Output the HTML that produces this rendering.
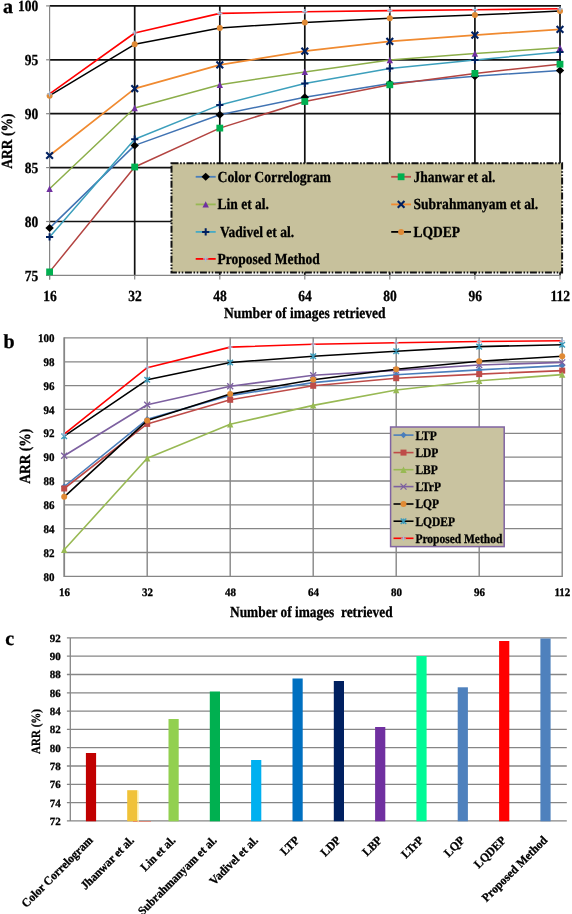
<!DOCTYPE html>
<html><head><meta charset="utf-8"><title>Figure</title>
<style>html,body{margin:0;padding:0;background:#fff;}body{width:572px;height:914px;overflow:hidden;font-family:"Liberation Serif",serif;}svg{display:block;will-change:transform;}text{font-family:"Liberation Serif",serif;font-weight:bold;fill:#000;stroke:#000;stroke-width:0.3px;text-rendering:geometricPrecision;}</style></head><body>
<svg width="572" height="914" viewBox="0 0 572 914">
<rect width="572" height="914" fill="#fff"/>
<line x1="49.6" x2="560.9" y1="5.9" y2="5.9" stroke="#111" stroke-width="1.7"/>
<line x1="49.6" x2="560.9" y1="59.8" y2="59.8" stroke="#111" stroke-width="1.7"/>
<line x1="49.6" x2="560.9" y1="113.7" y2="113.7" stroke="#111" stroke-width="1.7"/>
<line x1="49.6" x2="560.9" y1="167.6" y2="167.6" stroke="#111" stroke-width="1.7"/>
<line x1="49.6" x2="560.9" y1="221.5" y2="221.5" stroke="#111" stroke-width="1.7"/>
<line x1="134.7" x2="134.7" y1="5.1000000000000005" y2="275.4" stroke="#111" stroke-width="1.7"/>
<line x1="219.8" x2="219.8" y1="5.1000000000000005" y2="275.4" stroke="#111" stroke-width="1.7"/>
<line x1="304.8" x2="304.8" y1="5.1000000000000005" y2="275.4" stroke="#111" stroke-width="1.7"/>
<line x1="389.8" x2="389.8" y1="5.1000000000000005" y2="275.4" stroke="#111" stroke-width="1.7"/>
<line x1="474.9" x2="474.9" y1="5.1000000000000005" y2="275.4" stroke="#111" stroke-width="1.7"/>
<line x1="560.0" x2="560.0" y1="5.1000000000000005" y2="275.4" stroke="#111" stroke-width="1.7"/>
<line x1="49.6" x2="49.6" y1="5.9" y2="279.4" stroke="#868686" stroke-width="1.2"/>
<line x1="46.1" x2="560.0" y1="275.4" y2="275.4" stroke="#868686" stroke-width="1.2"/>
<line x1="46.1" x2="49.6" y1="5.9" y2="5.9" stroke="#868686" stroke-width="1.2"/>
<line x1="46.1" x2="49.6" y1="59.8" y2="59.8" stroke="#868686" stroke-width="1.2"/>
<line x1="46.1" x2="49.6" y1="113.7" y2="113.7" stroke="#868686" stroke-width="1.2"/>
<line x1="46.1" x2="49.6" y1="167.6" y2="167.6" stroke="#868686" stroke-width="1.2"/>
<line x1="46.1" x2="49.6" y1="221.5" y2="221.5" stroke="#868686" stroke-width="1.2"/>
<line x1="46.1" x2="49.6" y1="275.4" y2="275.4" stroke="#868686" stroke-width="1.2"/>
<line x1="49.6" x2="49.6" y1="275.4" y2="279.4" stroke="#868686" stroke-width="1.2"/>
<line x1="134.7" x2="134.7" y1="275.4" y2="279.4" stroke="#868686" stroke-width="1.2"/>
<line x1="219.8" x2="219.8" y1="275.4" y2="279.4" stroke="#868686" stroke-width="1.2"/>
<line x1="304.8" x2="304.8" y1="275.4" y2="279.4" stroke="#868686" stroke-width="1.2"/>
<line x1="389.8" x2="389.8" y1="275.4" y2="279.4" stroke="#868686" stroke-width="1.2"/>
<line x1="474.9" x2="474.9" y1="275.4" y2="279.4" stroke="#868686" stroke-width="1.2"/>
<line x1="560.0" x2="560.0" y1="275.4" y2="279.4" stroke="#868686" stroke-width="1.2"/>
<polyline points="49.6,228.1 134.7,145.4 219.8,114.7 304.8,97.3 389.8,83.6 474.9,76.2 560.0,70.4" fill="none" stroke="#4173b3" stroke-width="1.5" stroke-linejoin="round"/>
<path d="M45.4 228.1L49.6 224.1L53.800000000000004 228.1L49.6 232.1Z" fill="#000"/>
<path d="M130.5 145.4L134.7 141.4L138.89999999999998 145.4L134.7 149.4Z" fill="#000"/>
<path d="M215.60000000000002 114.7L219.8 110.7L224.0 114.7L219.8 118.7Z" fill="#000"/>
<path d="M300.6 97.3L304.8 93.3L309.0 97.3L304.8 101.3Z" fill="#000"/>
<path d="M385.6 83.6L389.8 79.6L394.0 83.6L389.8 87.6Z" fill="#000"/>
<path d="M470.7 76.2L474.9 72.2L479.09999999999997 76.2L474.9 80.2Z" fill="#000"/>
<path d="M555.8 70.4L560.0 66.4L564.2 70.4L560.0 74.4Z" fill="#000"/>
<polyline points="49.6,271.9 134.7,167.0 219.8,128.1 304.8,101.5 389.8,84.8 474.9,73.4 560.0,64.2" fill="none" stroke="#b34441" stroke-width="1.5" stroke-linejoin="round"/>
<rect x="46.2" y="268.5" width="6.8" height="6.8" fill="#00b050"/>
<rect x="131.29999999999998" y="163.6" width="6.8" height="6.8" fill="#00b050"/>
<rect x="216.4" y="124.69999999999999" width="6.8" height="6.8" fill="#00b050"/>
<rect x="301.40000000000003" y="98.1" width="6.8" height="6.8" fill="#00b050"/>
<rect x="386.40000000000003" y="81.39999999999999" width="6.8" height="6.8" fill="#00b050"/>
<rect x="471.5" y="70.0" width="6.8" height="6.8" fill="#00b050"/>
<rect x="556.6" y="60.800000000000004" width="6.8" height="6.8" fill="#00b050"/>
<polyline points="49.6,188.8 134.7,108.0 219.8,84.8 304.8,71.9 389.8,60.1 474.9,53.5 560.0,47.8" fill="none" stroke="#8cae4a" stroke-width="1.5" stroke-linejoin="round"/>
<path d="M49.6 185.60000000000002L52.800000000000004 192.0L46.4 192.0Z" fill="#7030a0"/>
<path d="M134.7 104.8L137.89999999999998 111.2L131.5 111.2Z" fill="#7030a0"/>
<path d="M219.8 81.6L223.0 88.0L216.60000000000002 88.0Z" fill="#7030a0"/>
<path d="M304.8 68.7L308.0 75.10000000000001L301.6 75.10000000000001Z" fill="#7030a0"/>
<path d="M389.8 56.9L393.0 63.300000000000004L386.6 63.300000000000004Z" fill="#7030a0"/>
<path d="M474.9 50.3L478.09999999999997 56.7L471.7 56.7Z" fill="#7030a0"/>
<path d="M560.0 44.599999999999994L563.2 51.0L556.8 51.0Z" fill="#7030a0"/>
<polyline points="49.6,155.5 134.7,88.6 219.8,64.9 304.8,51.2 389.8,41.4 474.9,35.1 560.0,29.3" fill="none" stroke="#f08a30" stroke-width="1.7" stroke-linejoin="round"/>
<path d="M46.25 152.15L52.95 158.85M46.25 158.85L52.95 152.15" stroke="#002060" stroke-width="2.1" fill="none"/>
<path d="M131.35 85.25L138.04999999999998 91.94999999999999M131.35 91.94999999999999L138.04999999999998 85.25" stroke="#002060" stroke-width="2.1" fill="none"/>
<path d="M216.45000000000002 61.550000000000004L223.15 68.25M216.45000000000002 68.25L223.15 61.550000000000004" stroke="#002060" stroke-width="2.1" fill="none"/>
<path d="M301.45 47.85L308.15000000000003 54.550000000000004M301.45 54.550000000000004L308.15000000000003 47.85" stroke="#002060" stroke-width="2.1" fill="none"/>
<path d="M386.45 38.05L393.15000000000003 44.75M386.45 44.75L393.15000000000003 38.05" stroke="#002060" stroke-width="2.1" fill="none"/>
<path d="M471.54999999999995 31.75L478.25 38.45M471.54999999999995 38.45L478.25 31.75" stroke="#002060" stroke-width="2.1" fill="none"/>
<path d="M556.65 25.95L563.35 32.65M556.65 32.65L563.35 25.95" stroke="#002060" stroke-width="2.1" fill="none"/>
<polyline points="49.6,236.9 134.7,139.2 219.8,104.9 304.8,83.4 389.8,68.5 474.9,60.0 560.0,51.9" fill="none" stroke="#3c9fbc" stroke-width="1.5" stroke-linejoin="round"/>
<path d="M46.0 236.9L53.2 236.9M49.6 233.3L49.6 240.5" stroke="#002060" stroke-width="2.0" fill="none"/>
<path d="M131.1 139.2L138.29999999999998 139.2M134.7 135.6L134.7 142.79999999999998" stroke="#002060" stroke-width="2.0" fill="none"/>
<path d="M216.20000000000002 104.9L223.4 104.9M219.8 101.30000000000001L219.8 108.5" stroke="#002060" stroke-width="2.0" fill="none"/>
<path d="M301.2 83.4L308.40000000000003 83.4M304.8 79.80000000000001L304.8 87.0" stroke="#002060" stroke-width="2.0" fill="none"/>
<path d="M386.2 68.5L393.40000000000003 68.5M389.8 64.9L389.8 72.1" stroke="#002060" stroke-width="2.0" fill="none"/>
<path d="M471.29999999999995 60.0L478.5 60.0M474.9 56.4L474.9 63.6" stroke="#002060" stroke-width="2.0" fill="none"/>
<path d="M556.4 51.9L563.6 51.9M560.0 48.3L560.0 55.5" stroke="#002060" stroke-width="2.0" fill="none"/>
<polyline points="49.6,95.7 134.7,44.3 219.8,28.0 304.8,22.4 389.8,18.2 474.9,15.0 560.0,11.1" fill="none" stroke="#000" stroke-width="1.5" stroke-linejoin="round"/>
<circle cx="49.6" cy="95.7" r="3.0" fill="#e08a35"/>
<circle cx="134.7" cy="44.3" r="3.0" fill="#e08a35"/>
<circle cx="219.8" cy="28.0" r="3.0" fill="#e08a35"/>
<circle cx="304.8" cy="22.4" r="3.0" fill="#e08a35"/>
<circle cx="389.8" cy="18.2" r="3.0" fill="#e08a35"/>
<circle cx="474.9" cy="15.0" r="3.0" fill="#e08a35"/>
<circle cx="560.0" cy="11.1" r="3.0" fill="#e08a35"/>
<polyline points="49.6,93.9 134.7,33.0 219.8,13.4 304.8,11.7 389.8,10.6 474.9,9.7 560.0,8.8" fill="none" stroke="#ff0000" stroke-width="1.6" stroke-linejoin="round"/>
<path d="M47.0 93.9L52.2 93.9M49.6 91.30000000000001L49.6 96.5" stroke="#a3bcdc" stroke-width="1.2" fill="none"/>
<path d="M132.1 33.0L137.29999999999998 33.0M134.7 30.4L134.7 35.6" stroke="#a3bcdc" stroke-width="1.2" fill="none"/>
<path d="M217.20000000000002 13.4L222.4 13.4M219.8 10.8L219.8 16.0" stroke="#a3bcdc" stroke-width="1.2" fill="none"/>
<path d="M302.2 11.7L307.40000000000003 11.7M304.8 9.1L304.8 14.299999999999999" stroke="#a3bcdc" stroke-width="1.2" fill="none"/>
<path d="M387.2 10.6L392.40000000000003 10.6M389.8 8.0L389.8 13.2" stroke="#a3bcdc" stroke-width="1.2" fill="none"/>
<path d="M472.29999999999995 9.7L477.5 9.7M474.9 7.1L474.9 12.299999999999999" stroke="#a3bcdc" stroke-width="1.2" fill="none"/>
<path d="M557.4 8.8L562.6 8.8M560.0 6.200000000000001L560.0 11.4" stroke="#a3bcdc" stroke-width="1.2" fill="none"/>
<rect x="171.5" y="163.2" width="390.6" height="109.2" fill="#c7c19c" stroke="#111" stroke-width="2" stroke-dasharray="7 1.6 1.6 1.6 1.6 1.6"/>
<line x1="195.7" x2="215.7" y1="176.8" y2="176.8" stroke="#4a7ebb" stroke-width="1.8"/>
<path d="M201.5 176.8L205.7 172.8L209.89999999999998 176.8L205.7 180.8Z" fill="#000"/>
<line x1="195.7" x2="215.7" y1="204.4" y2="204.4" stroke="#98b954" stroke-width="1.8"/>
<path d="M205.7 201.20000000000002L208.89999999999998 207.6L202.5 207.6Z" fill="#7030a0"/>
<line x1="195.7" x2="215.7" y1="231.9" y2="231.9" stroke="#46aac5" stroke-width="1.8"/>
<path d="M202.1 231.9L209.29999999999998 231.9M205.7 228.3L205.7 235.5" stroke="#002060" stroke-width="2.0" fill="none"/>
<line x1="195.7" x2="215.7" y1="258.9" y2="258.9" stroke="#ff0000" stroke-width="1.8"/>
<path d="M203.1 258.9L208.29999999999998 258.9M205.7 256.29999999999995L205.7 261.5" stroke="#a3bcdc" stroke-width="1.2" fill="none"/>
<line x1="391.2" x2="411.0" y1="176.8" y2="176.8" stroke="#be4b48" stroke-width="1.8"/>
<rect x="397.70000000000005" y="173.4" width="6.8" height="6.8" fill="#00b050"/>
<line x1="391.2" x2="411.0" y1="204.4" y2="204.4" stroke="#f08a30" stroke-width="1.8"/>
<path d="M397.75 201.05L404.45000000000005 207.75M397.75 207.75L404.45000000000005 201.05" stroke="#002060" stroke-width="2.1" fill="none"/>
<line x1="391.2" x2="411.0" y1="231.9" y2="231.9" stroke="#000" stroke-width="1.8"/>
<circle cx="401.1" cy="231.9" r="3.0" fill="#e08a35"/>
<text transform="translate(217.6,181.8) scale(0.875,1)" font-size="15.43" text-anchor="start" textLength="129.6" lengthAdjust="spacingAndGlyphs" >Color Correlogram</text>
<text transform="translate(217.6,209.4) scale(0.875,1)" font-size="15.43" text-anchor="start" >Lin et al.</text>
<text transform="translate(220.0,236.9) scale(0.875,1)" font-size="15.43" text-anchor="start" >Vadivel et al.</text>
<text transform="translate(217.6,263.9) scale(0.875,1)" font-size="15.43" text-anchor="start" >Proposed Method</text>
<text transform="translate(413.5,181.8) scale(0.875,1)" font-size="15.43" text-anchor="start" >Jhanwar et al.</text>
<text transform="translate(413.5,209.4) scale(0.875,1)" font-size="15.43" text-anchor="start" textLength="142.4" lengthAdjust="spacingAndGlyphs" >Subrahmanyam et al.</text>
<text transform="translate(413.5,236.9) scale(0.875,1)" font-size="15.43" text-anchor="start" >LQDEP</text>
<text transform="translate(38.2,11.2) scale(0.875,1)" font-size="15.43" text-anchor="end" >100</text>
<text transform="translate(38.2,65.1) scale(0.875,1)" font-size="15.43" text-anchor="end" >95</text>
<text transform="translate(38.2,119.0) scale(0.875,1)" font-size="15.43" text-anchor="end" >90</text>
<text transform="translate(38.2,172.9) scale(0.875,1)" font-size="15.43" text-anchor="end" >85</text>
<text transform="translate(38.2,226.8) scale(0.875,1)" font-size="15.43" text-anchor="end" >80</text>
<text transform="translate(38.2,280.7) scale(0.875,1)" font-size="15.43" text-anchor="end" >75</text>
<text transform="translate(49.9,300.6) scale(0.875,1)" font-size="15.43" text-anchor="middle" >16</text>
<text transform="translate(135.0,300.6) scale(0.875,1)" font-size="15.43" text-anchor="middle" >32</text>
<text transform="translate(220.10000000000002,300.6) scale(0.875,1)" font-size="15.43" text-anchor="middle" >48</text>
<text transform="translate(305.1,300.6) scale(0.875,1)" font-size="15.43" text-anchor="middle" >64</text>
<text transform="translate(390.1,300.6) scale(0.875,1)" font-size="15.43" text-anchor="middle" >80</text>
<text transform="translate(475.2,300.6) scale(0.875,1)" font-size="15.43" text-anchor="middle" >96</text>
<text transform="translate(560.3,300.6) scale(0.875,1)" font-size="15.43" text-anchor="middle" >112</text>
<text transform="translate(304.8,317.8) scale(0.875,1)" font-size="15.43" text-anchor="middle" textLength="184.6" lengthAdjust="spacingAndGlyphs" >Number of images retrieved</text>
<text transform="translate(11.6,141.1) rotate(-90) scale(0.875,1)" font-size="15.43" text-anchor="middle" >ARR (%)</text>
<text transform="translate(3,13.2) scale(1,1)" font-size="20.0" text-anchor="start" >a</text>
<line x1="64.2" x2="562.2" y1="576.4" y2="576.4" stroke="#868686" stroke-width="1.3"/>
<line x1="64.2" x2="562.2" y1="552.5" y2="552.5" stroke="#868686" stroke-width="1.3"/>
<line x1="64.2" x2="562.2" y1="528.7" y2="528.7" stroke="#868686" stroke-width="1.3"/>
<line x1="64.2" x2="562.2" y1="504.9" y2="504.9" stroke="#868686" stroke-width="1.3"/>
<line x1="64.2" x2="562.2" y1="481.0" y2="481.0" stroke="#868686" stroke-width="1.3"/>
<line x1="64.2" x2="562.2" y1="457.1" y2="457.1" stroke="#868686" stroke-width="1.3"/>
<line x1="64.2" x2="562.2" y1="433.3" y2="433.3" stroke="#868686" stroke-width="1.3"/>
<line x1="64.2" x2="562.2" y1="409.4" y2="409.4" stroke="#868686" stroke-width="1.3"/>
<line x1="64.2" x2="562.2" y1="385.6" y2="385.6" stroke="#868686" stroke-width="1.3"/>
<line x1="64.2" x2="562.2" y1="361.8" y2="361.8" stroke="#868686" stroke-width="1.3"/>
<line x1="64.2" x2="562.2" y1="337.9" y2="337.9" stroke="#868686" stroke-width="1.3"/>
<line x1="64.2" x2="64.2" y1="337.29999999999995" y2="577.0" stroke="#868686" stroke-width="1.8"/>
<line x1="147.2" x2="147.2" y1="337.29999999999995" y2="577.0" stroke="#868686" stroke-width="1.4"/>
<line x1="230.2" x2="230.2" y1="337.29999999999995" y2="577.0" stroke="#868686" stroke-width="1.4"/>
<line x1="313.2" x2="313.2" y1="337.29999999999995" y2="577.0" stroke="#868686" stroke-width="1.4"/>
<line x1="396.2" x2="396.2" y1="337.29999999999995" y2="577.0" stroke="#868686" stroke-width="1.4"/>
<line x1="479.2" x2="479.2" y1="337.29999999999995" y2="577.0" stroke="#868686" stroke-width="1.4"/>
<line x1="562.2" x2="562.2" y1="337.29999999999995" y2="577.0" stroke="#868686" stroke-width="1.4"/>
<polyline points="64.2,486.5 147.2,419.3 230.2,395.6 313.2,382.6 396.2,374.8 479.2,369.9 562.2,365.6" fill="none" stroke="#4a7ebb" stroke-width="1.6" stroke-linejoin="round"/>
<path d="M61.0 486.5L64.2 483.3L67.4 486.5L64.2 489.7Z" fill="#4a7ebb"/>
<path d="M144.0 419.3L147.2 416.1L150.39999999999998 419.3L147.2 422.5Z" fill="#4a7ebb"/>
<path d="M227.0 395.6L230.2 392.40000000000003L233.39999999999998 395.6L230.2 398.8Z" fill="#4a7ebb"/>
<path d="M310.0 382.6L313.2 379.40000000000003L316.4 382.6L313.2 385.8Z" fill="#4a7ebb"/>
<path d="M393.0 374.8L396.2 371.6L399.4 374.8L396.2 378.0Z" fill="#4a7ebb"/>
<path d="M476.0 369.9L479.2 366.7L482.4 369.9L479.2 373.09999999999997Z" fill="#4a7ebb"/>
<path d="M559.0 365.6L562.2 362.40000000000003L565.4000000000001 365.6L562.2 368.8Z" fill="#4a7ebb"/>
<polyline points="64.2,488.5 147.2,423.9 230.2,399.8 313.2,385.8 396.2,378.2 479.2,374.1 562.2,370.6" fill="none" stroke="#be4b48" stroke-width="1.6" stroke-linejoin="round"/>
<rect x="61.2" y="485.5" width="6.0" height="6.0" fill="#be4b48"/>
<rect x="144.2" y="420.9" width="6.0" height="6.0" fill="#be4b48"/>
<rect x="227.2" y="396.8" width="6.0" height="6.0" fill="#be4b48"/>
<rect x="310.2" y="382.8" width="6.0" height="6.0" fill="#be4b48"/>
<rect x="393.2" y="375.2" width="6.0" height="6.0" fill="#be4b48"/>
<rect x="476.2" y="371.1" width="6.0" height="6.0" fill="#be4b48"/>
<rect x="559.2" y="367.6" width="6.0" height="6.0" fill="#be4b48"/>
<polyline points="64.2,549.8 147.2,458.3 230.2,424.2 313.2,405.4 396.2,390.0 479.2,380.7 562.2,374.6" fill="none" stroke="#98b954" stroke-width="1.6" stroke-linejoin="round"/>
<path d="M64.2 546.5999999999999L67.4 553.0L61.0 553.0Z" fill="#98b954"/>
<path d="M147.2 455.1L150.39999999999998 461.5L144.0 461.5Z" fill="#98b954"/>
<path d="M230.2 421.0L233.39999999999998 427.4L227.0 427.4Z" fill="#98b954"/>
<path d="M313.2 402.2L316.4 408.59999999999997L310.0 408.59999999999997Z" fill="#98b954"/>
<path d="M396.2 386.8L399.4 393.2L393.0 393.2Z" fill="#98b954"/>
<path d="M479.2 377.5L482.4 383.9L476.0 383.9Z" fill="#98b954"/>
<path d="M562.2 371.40000000000003L565.4000000000001 377.8L559.0 377.8Z" fill="#98b954"/>
<polyline points="64.2,455.8 147.2,404.7 230.2,386.3 313.2,375.3 396.2,370.4 479.2,365.0 562.2,362.4" fill="none" stroke="#7d60a0" stroke-width="1.6" stroke-linejoin="round"/>
<path d="M61.2 452.8L67.2 458.8M61.2 458.8L67.2 452.8" stroke="#7d60a0" stroke-width="1.3" fill="none"/>
<path d="M144.2 401.7L150.2 407.7M144.2 407.7L150.2 401.7" stroke="#7d60a0" stroke-width="1.3" fill="none"/>
<path d="M227.2 383.3L233.2 389.3M227.2 389.3L233.2 383.3" stroke="#7d60a0" stroke-width="1.3" fill="none"/>
<path d="M310.2 372.3L316.2 378.3M310.2 378.3L316.2 372.3" stroke="#7d60a0" stroke-width="1.3" fill="none"/>
<path d="M393.2 367.4L399.2 373.4M393.2 373.4L399.2 367.4" stroke="#7d60a0" stroke-width="1.3" fill="none"/>
<path d="M476.2 362.0L482.2 368.0M476.2 368.0L482.2 362.0" stroke="#7d60a0" stroke-width="1.3" fill="none"/>
<path d="M559.2 359.4L565.2 365.4M559.2 365.4L565.2 359.4" stroke="#7d60a0" stroke-width="1.3" fill="none"/>
<polyline points="64.2,496.8 147.2,420.6 230.2,394.1 313.2,379.7 396.2,369.2 479.2,361.3 562.2,356.2" fill="none" stroke="#000" stroke-width="1.6" stroke-linejoin="round"/>
<circle cx="64.2" cy="496.8" r="3.0" fill="#e08a35"/>
<circle cx="147.2" cy="420.6" r="3.0" fill="#e08a35"/>
<circle cx="230.2" cy="394.1" r="3.0" fill="#e08a35"/>
<circle cx="313.2" cy="379.7" r="3.0" fill="#e08a35"/>
<circle cx="396.2" cy="369.2" r="3.0" fill="#e08a35"/>
<circle cx="479.2" cy="361.3" r="3.0" fill="#e08a35"/>
<circle cx="562.2" cy="356.2" r="3.0" fill="#e08a35"/>
<polyline points="64.2,436.2 147.2,379.8 230.2,362.5 313.2,356.2 396.2,351.3 479.2,346.6 562.2,344.7" fill="none" stroke="#000" stroke-width="1.6" stroke-linejoin="round"/>
<path d="M61.400000000000006 433.4L67.0 439.0M61.400000000000006 439.0L67.0 433.4M64.2 433.4L64.2 439.0" stroke="#3d9bbb" stroke-width="1.4" fill="none"/>
<path d="M144.39999999999998 377.0L150.0 382.6M144.39999999999998 382.6L150.0 377.0M147.2 377.0L147.2 382.6" stroke="#3d9bbb" stroke-width="1.4" fill="none"/>
<path d="M227.39999999999998 359.7L233.0 365.3M227.39999999999998 365.3L233.0 359.7M230.2 359.7L230.2 365.3" stroke="#3d9bbb" stroke-width="1.4" fill="none"/>
<path d="M310.4 353.4L316.0 359.0M310.4 359.0L316.0 353.4M313.2 353.4L313.2 359.0" stroke="#3d9bbb" stroke-width="1.4" fill="none"/>
<path d="M393.4 348.5L399.0 354.1M393.4 354.1L399.0 348.5M396.2 348.5L396.2 354.1" stroke="#3d9bbb" stroke-width="1.4" fill="none"/>
<path d="M476.4 343.8L482.0 349.40000000000003M476.4 349.40000000000003L482.0 343.8M479.2 343.8L479.2 349.40000000000003" stroke="#3d9bbb" stroke-width="1.4" fill="none"/>
<path d="M559.4000000000001 341.9L565.0 347.5M559.4000000000001 347.5L565.0 341.9M562.2 341.9L562.2 347.5" stroke="#3d9bbb" stroke-width="1.4" fill="none"/>
<polyline points="64.2,434.2 147.2,367.7 230.2,347.1 313.2,344.2 396.2,342.7 479.2,341.5 562.2,340.7" fill="none" stroke="#ff0000" stroke-width="1.6" stroke-linejoin="round"/>
<path d="M61.800000000000004 434.2L66.60000000000001 434.2M64.2 431.8L64.2 436.59999999999997" stroke="#a3bcdc" stroke-width="1.1" fill="none"/>
<path d="M144.79999999999998 367.7L149.6 367.7M147.2 365.3L147.2 370.09999999999997" stroke="#a3bcdc" stroke-width="1.1" fill="none"/>
<path d="M227.79999999999998 347.1L232.6 347.1M230.2 344.70000000000005L230.2 349.5" stroke="#a3bcdc" stroke-width="1.1" fill="none"/>
<path d="M310.8 344.2L315.59999999999997 344.2M313.2 341.8L313.2 346.59999999999997" stroke="#a3bcdc" stroke-width="1.1" fill="none"/>
<path d="M393.8 342.7L398.59999999999997 342.7M396.2 340.3L396.2 345.09999999999997" stroke="#a3bcdc" stroke-width="1.1" fill="none"/>
<path d="M476.8 341.5L481.59999999999997 341.5M479.2 339.1L479.2 343.9" stroke="#a3bcdc" stroke-width="1.1" fill="none"/>
<path d="M559.8000000000001 340.7L564.6 340.7M562.2 338.3L562.2 343.09999999999997" stroke="#a3bcdc" stroke-width="1.1" fill="none"/>
<rect x="390.6" y="427.0" width="113.6" height="119.6" fill="#c9c3a0" stroke="#8064a2" stroke-width="1.5"/>
<line x1="393.5" x2="413.5" y1="435.1" y2="435.1" stroke="#4a7ebb" stroke-width="1.6"/>
<path d="M400.3 435.1L403.5 431.90000000000003L406.7 435.1L403.5 438.3Z" fill="#4a7ebb"/>
<line x1="393.5" x2="413.5" y1="452.6" y2="452.6" stroke="#be4b48" stroke-width="1.6"/>
<rect x="400.5" y="449.6" width="6.0" height="6.0" fill="#be4b48"/>
<line x1="393.5" x2="413.5" y1="469.7" y2="469.7" stroke="#98b954" stroke-width="1.6"/>
<path d="M403.5 466.5L406.7 472.9L400.3 472.9Z" fill="#98b954"/>
<line x1="393.5" x2="413.5" y1="486.6" y2="486.6" stroke="#7d60a0" stroke-width="1.6"/>
<path d="M400.5 483.6L406.5 489.6M400.5 489.6L406.5 483.6" stroke="#7d60a0" stroke-width="1.3" fill="none"/>
<line x1="393.5" x2="413.5" y1="504.0" y2="504.0" stroke="#000" stroke-width="1.6"/>
<circle cx="403.5" cy="504.0" r="3.0" fill="#e08a35"/>
<line x1="393.5" x2="413.5" y1="521.2" y2="521.2" stroke="#000" stroke-width="1.6"/>
<path d="M400.7 518.4000000000001L406.3 524.0M400.7 524.0L406.3 518.4000000000001M403.5 518.4000000000001L403.5 524.0" stroke="#3d9bbb" stroke-width="1.4" fill="none"/>
<line x1="393.5" x2="413.5" y1="538.3" y2="538.3" stroke="#ff0000" stroke-width="1.6"/>
<path d="M401.1 538.3L405.9 538.3M403.5 535.9L403.5 540.6999999999999" stroke="#a3bcdc" stroke-width="1.1" fill="none"/>
<text transform="translate(415.4,439.5) scale(0.875,1)" font-size="13.14" text-anchor="start" >LTP</text>
<text transform="translate(415.4,457.0) scale(0.875,1)" font-size="13.14" text-anchor="start" >LDP</text>
<text transform="translate(415.4,474.09999999999997) scale(0.875,1)" font-size="13.14" text-anchor="start" >LBP</text>
<text transform="translate(415.4,491.0) scale(0.875,1)" font-size="13.14" text-anchor="start" >LTrP</text>
<text transform="translate(415.4,508.4) scale(0.875,1)" font-size="13.14" text-anchor="start" >LQP</text>
<text transform="translate(415.4,525.6) scale(0.875,1)" font-size="13.14" text-anchor="start" >LQDEP</text>
<text transform="translate(415.4,542.6999999999999) scale(0.875,1)" font-size="13.14" text-anchor="start" >Proposed Method</text>
<text transform="translate(54.6,580.5) scale(0.95,1)" font-size="11.58" text-anchor="end" >80</text>
<text transform="translate(54.6,556.6) scale(0.95,1)" font-size="11.58" text-anchor="end" >82</text>
<text transform="translate(54.6,532.8000000000001) scale(0.95,1)" font-size="11.58" text-anchor="end" >84</text>
<text transform="translate(54.6,509.0) scale(0.95,1)" font-size="11.58" text-anchor="end" >86</text>
<text transform="translate(54.6,485.1) scale(0.95,1)" font-size="11.58" text-anchor="end" >88</text>
<text transform="translate(54.6,461.20000000000005) scale(0.95,1)" font-size="11.58" text-anchor="end" >90</text>
<text transform="translate(54.6,437.40000000000003) scale(0.95,1)" font-size="11.58" text-anchor="end" >92</text>
<text transform="translate(54.6,413.5) scale(0.95,1)" font-size="11.58" text-anchor="end" >94</text>
<text transform="translate(54.6,389.70000000000005) scale(0.95,1)" font-size="11.58" text-anchor="end" >96</text>
<text transform="translate(54.6,365.90000000000003) scale(0.95,1)" font-size="11.58" text-anchor="end" >98</text>
<text transform="translate(54.6,342.0) scale(0.95,1)" font-size="11.58" text-anchor="end" >100</text>
<text transform="translate(64.4,596.3) scale(0.97,1)" font-size="11.34" text-anchor="middle" >16</text>
<text transform="translate(147.39999999999998,596.3) scale(0.97,1)" font-size="11.34" text-anchor="middle" >32</text>
<text transform="translate(230.39999999999998,596.3) scale(0.97,1)" font-size="11.34" text-anchor="middle" >48</text>
<text transform="translate(313.4,596.3) scale(0.97,1)" font-size="11.34" text-anchor="middle" >64</text>
<text transform="translate(396.4,596.3) scale(0.97,1)" font-size="11.34" text-anchor="middle" >80</text>
<text transform="translate(479.4,596.3) scale(0.97,1)" font-size="11.34" text-anchor="middle" >96</text>
<text transform="translate(562.4000000000001,596.3) scale(0.97,1)" font-size="11.34" text-anchor="middle" >112</text>
<text transform="translate(311.3,617.0) scale(0.875,1)" font-size="15.43" text-anchor="middle" textLength="185.7" lengthAdjust="spacingAndGlyphs" >Number of images&#160; retrieved</text>
<text transform="translate(30.0,456.2) rotate(-90) scale(0.875,1)" font-size="15.43" text-anchor="middle" >ARR (%)</text>
<text transform="translate(3.6,348.2) scale(1,1)" font-size="20.0" text-anchor="start" >b</text>
<line x1="66.89999999999999" x2="566.8" y1="820.9" y2="820.9" stroke="#868686" stroke-width="1.3"/>
<line x1="66.89999999999999" x2="566.8" y1="802.6" y2="802.6" stroke="#868686" stroke-width="1.3"/>
<line x1="66.89999999999999" x2="566.8" y1="784.3" y2="784.3" stroke="#868686" stroke-width="1.3"/>
<line x1="66.89999999999999" x2="566.8" y1="766.0" y2="766.0" stroke="#868686" stroke-width="1.3"/>
<line x1="66.89999999999999" x2="566.8" y1="747.7" y2="747.7" stroke="#868686" stroke-width="1.3"/>
<line x1="66.89999999999999" x2="566.8" y1="729.4" y2="729.4" stroke="#868686" stroke-width="1.3"/>
<line x1="66.89999999999999" x2="566.8" y1="711.1" y2="711.1" stroke="#868686" stroke-width="1.3"/>
<line x1="66.89999999999999" x2="566.8" y1="692.8" y2="692.8" stroke="#868686" stroke-width="1.3"/>
<line x1="66.89999999999999" x2="566.8" y1="674.5" y2="674.5" stroke="#868686" stroke-width="1.3"/>
<line x1="66.89999999999999" x2="566.8" y1="656.2" y2="656.2" stroke="#868686" stroke-width="1.3"/>
<line x1="66.89999999999999" x2="566.8" y1="637.9" y2="637.9" stroke="#868686" stroke-width="1.3"/>
<line x1="70.3" x2="70.3" y1="637.9" y2="820.9" stroke="#868686" stroke-width="1.3"/>
<rect x="85.9" y="753.0" width="10.2" height="68.3" fill="#c00000"/>
<text transform="translate(93.6,841.0) rotate(-45) scale(0.95,1)" font-size="12.11" text-anchor="end" >Color Correlogram</text>
<rect x="127.2" y="790.2" width="10.2" height="31.1" fill="#f0c238"/>
<text transform="translate(134.9,841.0) rotate(-45) scale(0.95,1)" font-size="12.11" text-anchor="end" >Jhanwar et al.</text>
<rect x="168.5" y="719.0" width="10.2" height="102.3" fill="#92d050"/>
<text transform="translate(176.2,841.0) rotate(-45) scale(0.95,1)" font-size="12.11" text-anchor="end" >Lin et al.</text>
<rect x="209.8" y="691.5" width="10.2" height="129.8" fill="#00b050"/>
<text transform="translate(217.5,841.0) rotate(-45) scale(0.95,1)" font-size="12.11" text-anchor="end" >Subrahmanyam et al.</text>
<rect x="251.1" y="760.0" width="10.2" height="61.3" fill="#00b0f0"/>
<text transform="translate(258.8,841.0) rotate(-45) scale(0.95,1)" font-size="12.11" text-anchor="end" >Vadivel et al.</text>
<rect x="292.5" y="678.5" width="10.2" height="142.8" fill="#0070c0"/>
<text transform="translate(300.2,841.0) rotate(-45) scale(0.95,1)" font-size="12.11" text-anchor="end" >LTP</text>
<rect x="333.8" y="681.0" width="10.2" height="140.3" fill="#002060"/>
<text transform="translate(341.5,841.0) rotate(-45) scale(0.95,1)" font-size="12.11" text-anchor="end" >LDP</text>
<rect x="375.1" y="727.0" width="10.2" height="94.3" fill="#7030a0"/>
<text transform="translate(382.8,841.0) rotate(-45) scale(0.95,1)" font-size="12.11" text-anchor="end" >LBP</text>
<rect x="416.4" y="656.0" width="10.2" height="165.3" fill="#00fa96"/>
<text transform="translate(424.1,841.0) rotate(-45) scale(0.95,1)" font-size="12.11" text-anchor="end" >LTrP</text>
<rect x="457.7" y="687.3" width="10.2" height="134.0" fill="#4f81bd"/>
<text transform="translate(465.4,841.0) rotate(-45) scale(0.95,1)" font-size="12.11" text-anchor="end" >LQP</text>
<rect x="499.1" y="641.0" width="10.2" height="180.3" fill="#ff0000"/>
<text transform="translate(506.8,841.0) rotate(-45) scale(0.95,1)" font-size="12.11" text-anchor="end" >LQDEP</text>
<rect x="540.4" y="638.5" width="10.2" height="182.8" fill="#4f81bd"/>
<text transform="translate(548.1,841.0) rotate(-45) scale(0.95,1)" font-size="12.11" text-anchor="end" >Proposed Method</text>
<line x1="133" x2="151" y1="821.6" y2="821.6" stroke="#ff5a3c" stroke-width="0.8" opacity="0.7"/>
<rect x="137.6" y="790.5" width="1.2" height="32" fill="#fff3a0" opacity="0.8"/>
<text transform="translate(60.8,824.8) scale(1.0,1)" font-size="11.0" text-anchor="end" >72</text>
<text transform="translate(60.8,806.5) scale(1.0,1)" font-size="11.0" text-anchor="end" >74</text>
<text transform="translate(60.8,788.1999999999999) scale(1.0,1)" font-size="11.0" text-anchor="end" >76</text>
<text transform="translate(60.8,769.9) scale(1.0,1)" font-size="11.0" text-anchor="end" >78</text>
<text transform="translate(60.8,751.6) scale(1.0,1)" font-size="11.0" text-anchor="end" >80</text>
<text transform="translate(60.8,733.3) scale(1.0,1)" font-size="11.0" text-anchor="end" >82</text>
<text transform="translate(60.8,715.0) scale(1.0,1)" font-size="11.0" text-anchor="end" >84</text>
<text transform="translate(60.8,696.6999999999999) scale(1.0,1)" font-size="11.0" text-anchor="end" >86</text>
<text transform="translate(60.8,678.4) scale(1.0,1)" font-size="11.0" text-anchor="end" >88</text>
<text transform="translate(60.8,660.1) scale(1.0,1)" font-size="11.0" text-anchor="end" >90</text>
<text transform="translate(60.8,641.8) scale(1.0,1)" font-size="11.0" text-anchor="end" >92</text>
<text transform="translate(40.2,731.5) rotate(-90) scale(0.875,1)" font-size="12.57" text-anchor="middle" >ARR (%)</text>
<text transform="translate(5.2,645.0) scale(1,1)" font-size="20.0" text-anchor="start" >c</text>
</svg></body></html>
